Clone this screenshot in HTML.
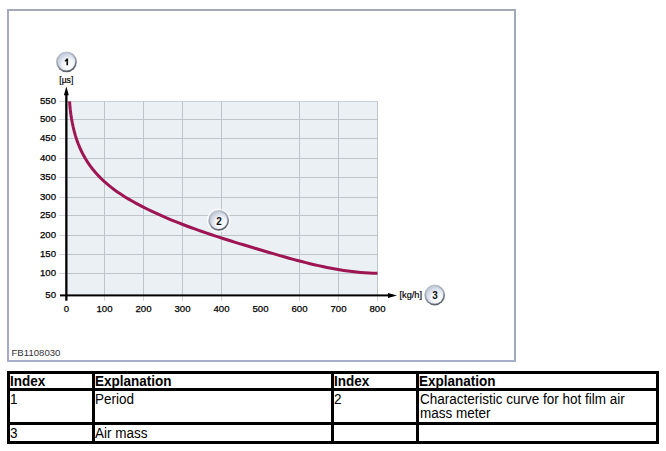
<!DOCTYPE html>
<html><head><meta charset="utf-8"><style>
html,body{margin:0;padding:0;background:#fff;}
body{width:666px;height:451px;position:relative;overflow:hidden;font-family:"Liberation Sans",sans-serif;}
svg{position:absolute;left:0;top:0;}
.b{position:absolute;background:#000;}
.t{position:absolute;font-size:14px;line-height:14px;transform:scaleX(0.964);transform-origin:0 0;color:#000;white-space:nowrap;}
.h{font-weight:bold;}
</style></head><body>
<svg width="666" height="451" viewBox="0 0 666 451">
<defs>
<linearGradient id="ring" x1="0.25" y1="0" x2="0.65" y2="1">
<stop offset="0" stop-color="#c4cad6"/>
<stop offset="0.5" stop-color="#9ca3b0"/>
<stop offset="1" stop-color="#50565f"/>
</linearGradient>
<radialGradient id="cg" cx="0.62" cy="0.66" r="0.8">
<stop offset="0" stop-color="#ffffff"/>
<stop offset="0.4" stop-color="#f1f4f9"/>
<stop offset="1" stop-color="#b3bfd3"/>
</radialGradient>
</defs>
<rect x="7" y="9" width="509" height="2" fill="#a2aab6"/>
<rect x="7" y="9" width="2" height="353" fill="#a3a9c6"/>
<rect x="514" y="9" width="2" height="353" fill="#9faabb"/>
<rect x="7" y="360" width="509" height="2" fill="#a6aecb"/>
<rect x="67" y="101" width="311" height="194" fill="#ebf0f4"/>
<rect x="67" y="101" width="311" height="1" fill="#cdd1d8"/>
<rect x="59" y="101" width="6" height="1" fill="#d3d6db"/>
<rect x="67" y="119" width="311" height="1" fill="#bec4cb"/>
<rect x="59" y="119" width="6" height="1" fill="#d3d6db"/>
<rect x="67" y="138" width="311" height="1" fill="#bec4cb"/>
<rect x="59" y="138" width="6" height="1" fill="#d3d6db"/>
<rect x="67" y="158" width="311" height="1" fill="#bec4cb"/>
<rect x="59" y="158" width="6" height="1" fill="#d3d6db"/>
<rect x="67" y="177" width="311" height="1" fill="#bec4cb"/>
<rect x="59" y="177" width="6" height="1" fill="#d3d6db"/>
<rect x="67" y="197" width="311" height="1" fill="#bec4cb"/>
<rect x="59" y="197" width="6" height="1" fill="#d3d6db"/>
<rect x="67" y="215" width="311" height="1" fill="#bec4cb"/>
<rect x="59" y="215" width="6" height="1" fill="#d3d6db"/>
<rect x="67" y="235" width="311" height="1" fill="#bec4cb"/>
<rect x="59" y="235" width="6" height="1" fill="#d3d6db"/>
<rect x="67" y="254" width="311" height="1" fill="#bec4cb"/>
<rect x="59" y="254" width="6" height="1" fill="#d3d6db"/>
<rect x="67" y="273" width="311" height="1" fill="#bec4cb"/>
<rect x="59" y="273" width="6" height="1" fill="#d3d6db"/>
<rect x="104" y="101" width="1" height="194" fill="#bec4cb"/>
<rect x="104" y="296" width="1" height="5" fill="#d3d6db"/>
<rect x="143" y="101" width="1" height="194" fill="#bec4cb"/>
<rect x="143" y="296" width="1" height="5" fill="#d3d6db"/>
<rect x="182" y="101" width="1" height="194" fill="#bec4cb"/>
<rect x="182" y="296" width="1" height="5" fill="#d3d6db"/>
<rect x="221" y="101" width="1" height="194" fill="#bec4cb"/>
<rect x="221" y="296" width="1" height="5" fill="#d3d6db"/>
<rect x="299" y="101" width="1" height="194" fill="#bec4cb"/>
<rect x="299" y="296" width="1" height="5" fill="#d3d6db"/>
<rect x="338" y="101" width="1" height="194" fill="#bec4cb"/>
<rect x="338" y="296" width="1" height="5" fill="#d3d6db"/>
<rect x="377" y="101" width="1" height="194" fill="#bec4cb"/>
<rect x="377" y="296" width="1" height="5" fill="#d3d6db"/>

<rect x="65.2" y="92" width="2.3" height="208.7" fill="#000"/>
<path d="M66.35 86.4 L63.9 95.2 L68.8 95.2 Z" fill="#000"/>
<rect x="60" y="294.4" width="330" height="2" fill="#000"/>
<path d="M397 295.4 L388 292.9 L388 297.9 Z" fill="#000"/>
<path d="M69.54 101.28 L69.88 105.58 L70.32 109.89 L70.86 114.19 L71.51 118.48 L72.28 122.75 L73.17 126.98 L74.19 131.18 L75.35 135.33 L76.64 139.42 L78.09 143.45 L79.69 147.41 L81.45 151.29 L83.37 155.08 L85.47 158.77 L87.74 162.37 L90.17 165.85 L92.76 169.24 L95.48 172.51 L98.34 175.67 L101.32 178.72 L104.43 181.64 L107.64 184.45 L110.95 187.14 L114.35 189.73 L117.83 192.21 L121.39 194.60 L125.01 196.91 L128.69 199.13 L132.42 201.27 L136.19 203.35 L139.99 205.37 L143.81 207.33 L147.64 209.24 L151.49 211.10 L155.36 212.92 L159.23 214.70 L163.13 216.43 L167.03 218.12 L170.95 219.77 L174.89 221.39 L178.83 222.96 L182.79 224.51 L186.76 226.02 L190.74 227.51 L194.73 228.96 L198.74 230.39 L202.75 231.79 L206.78 233.17 L210.81 234.53 L214.86 235.87 L218.91 237.19 L222.98 238.49 L227.06 239.78 L231.14 241.05 L235.23 242.31 L239.33 243.57 L243.44 244.81 L247.56 246.05 L251.68 247.29 L255.81 248.52 L259.95 249.75 L264.10 250.98 L268.25 252.21 L272.41 253.43 L276.57 254.64 L280.74 255.84 L284.91 257.03 L289.09 258.20 L293.28 259.35 L297.46 260.47 L301.66 261.57 L305.85 262.64 L310.05 263.68 L314.25 264.67 L318.46 265.64 L322.67 266.55 L326.88 267.43 L331.09 268.25 L335.31 269.03 L339.52 269.75 L343.74 270.41 L347.96 271.01 L352.17 271.55 L356.39 272.03 L360.61 272.43 L364.83 272.77 L369.05 273.02 L373.27 273.20 L377.48 273.30" fill="none" stroke="#9e1553" stroke-width="3" stroke-linecap="butt" stroke-linejoin="round"/>
<g font-family="Liberation Sans" font-size="9.6" fill="#000" font-weight="normal" stroke="#000" stroke-width="0.25">
<text x="56" y="104.1" text-anchor="end">550</text>
<text x="56" y="122.1" text-anchor="end">500</text>
<text x="56" y="141.1" text-anchor="end">450</text>
<text x="56" y="161.1" text-anchor="end">400</text>
<text x="56" y="180.1" text-anchor="end">350</text>
<text x="56" y="200.1" text-anchor="end">300</text>
<text x="56" y="218.4" text-anchor="end">250</text>
<text x="56" y="238.4" text-anchor="end">200</text>
<text x="56" y="257.4" text-anchor="end">150</text>
<text x="56" y="276.4" text-anchor="end">100</text>
<text x="56" y="298.1" text-anchor="end">50</text>
<text x="66.3" y="312" text-anchor="middle">0</text>
<text x="104.5" y="312" text-anchor="middle">100</text>
<text x="143.5" y="312" text-anchor="middle">200</text>
<text x="182.5" y="312" text-anchor="middle">300</text>
<text x="221.5" y="312" text-anchor="middle">400</text>
<text x="260.5" y="312" text-anchor="middle">500</text>
<text x="299.5" y="312" text-anchor="middle">600</text>
<text x="338.5" y="312" text-anchor="middle">700</text>
<text x="377.5" y="312" text-anchor="middle">800</text>

</g>
<text x="66.3" y="83.0" font-family="Liberation Sans" font-size="8.6" font-weight="normal" text-anchor="middle" fill="#000" stroke="#000" stroke-width="0.2">[µs]</text>
<text x="399.5" y="298.0" font-family="Liberation Sans" font-size="9.2" font-weight="normal" fill="#000" stroke="#000" stroke-width="0.2">[kg/h]</text>
<text x="11.5" y="355.8" font-family="Liberation Sans" font-size="9.6" fill="#333">FB1108030</text>
<circle cx="66.5" cy="61.8" r="12" fill="#fff" opacity="0.7"/>
<circle cx="66.5" cy="61.8" r="10.4" fill="url(#ring)"/>
<circle cx="66.5" cy="61.8" r="8.7" fill="url(#cg)"/>
<path d="M66.40 58.40 L68.10 58.40 L68.10 65.30 L66.40 65.30 L66.40 60.90 Q65.70 61.40 64.80 61.60 L64.80 60.20 Q66.00 59.70 66.40 58.40 Z" fill="#111"/>
<circle cx="218.7" cy="220.4" r="12" fill="#fff" opacity="0.7"/>
<circle cx="218.7" cy="220.4" r="10.4" fill="url(#ring)"/>
<circle cx="218.7" cy="220.4" r="8.7" fill="url(#cg)"/>
<text x="219.0" y="224.70000000000002" font-family="Liberation Sans" font-size="10" font-weight="bold" text-anchor="middle" fill="#111">2</text>
<circle cx="434.7" cy="295" r="12" fill="#fff" opacity="0.7"/>
<circle cx="434.7" cy="295" r="10.4" fill="url(#ring)"/>
<circle cx="434.7" cy="295" r="8.7" fill="url(#cg)"/>
<text x="435.0" y="299.3" font-family="Liberation Sans" font-size="10" font-weight="bold" text-anchor="middle" fill="#111">3</text>

</svg>
<div class="b" style="left:7px;top:371px;width:652px;height:3px"></div>
<div class="b" style="left:7px;top:388px;width:652px;height:3px"></div>
<div class="b" style="left:7px;top:422px;width:652px;height:3px"></div>
<div class="b" style="left:7px;top:441px;width:652px;height:3px"></div>
<div class="b" style="left:7px;top:371px;width:3px;height:73px"></div>
<div class="b" style="left:92px;top:371px;width:3px;height:73px"></div>
<div class="b" style="left:331px;top:371px;width:3px;height:73px"></div>
<div class="b" style="left:416px;top:371px;width:3px;height:73px"></div>
<div class="b" style="left:656px;top:371px;width:3px;height:73px"></div>
<div class="t h" style="left:10px;top:374px">Index</div>
<div class="t h" style="left:95px;top:374px">Explanation</div>
<div class="t h" style="left:334px;top:374px">Index</div>
<div class="t h" style="left:419px;top:374px">Explanation</div>
<div class="t" style="left:10px;top:392px">1</div>
<div class="t" style="left:95px;top:392px">Period</div>
<div class="t" style="left:334px;top:392px">2</div>
<div class="t" style="left:420px;top:392px">Characteristic curve for hot film air<br>mass meter</div>
<div class="t" style="left:10px;top:426px">3</div>
<div class="t" style="left:95px;top:426px">Air mass</div>
</body></html>
